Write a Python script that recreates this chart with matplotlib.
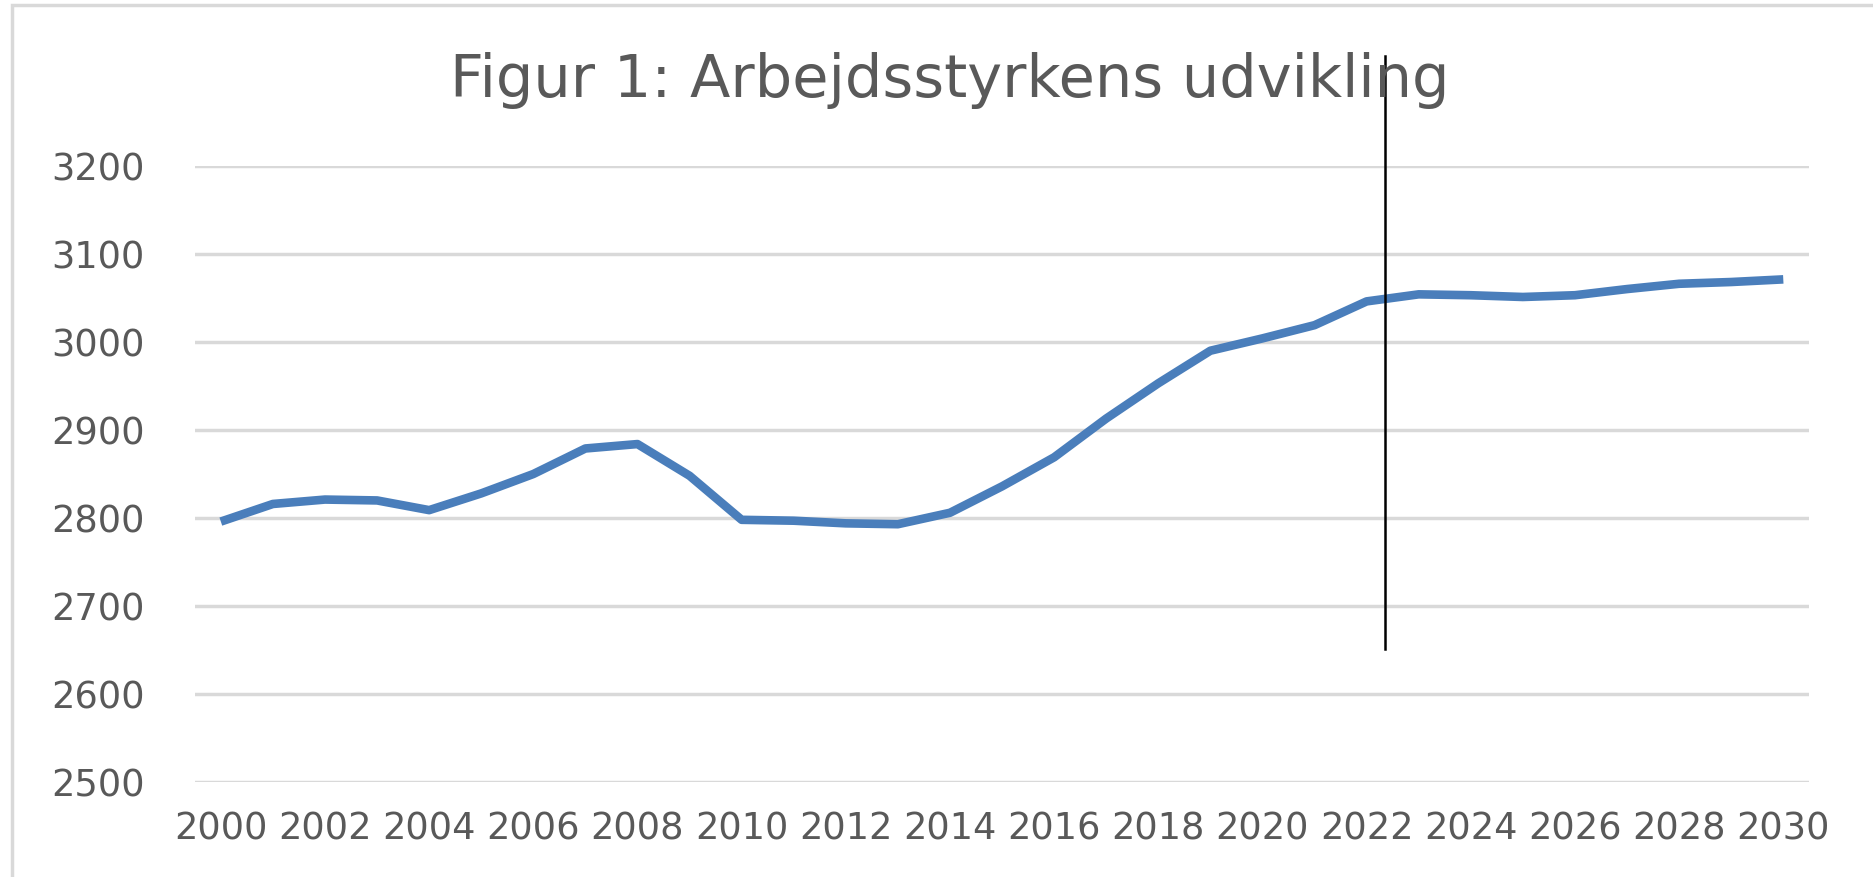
import matplotlib
matplotlib.use('Agg')
import matplotlib.pyplot as plt
from matplotlib.patches import Rectangle

# Arbejdsstyrken 2000-2030 (tusinde personer)
years = list(range(2000, 2031))
labour = [2796, 2816, 2821, 2820, 2809, 2828, 2850, 2879, 2884, 2848,
          2798, 2797, 2794, 2793, 2806, 2836, 2869, 2913, 2953, 2990,
          3004, 3019, 3046, 3054, 3053, 3051, 3053, 3060, 3066, 3068, 3071]
tick_years = list(range(2000, 2031, 2))
y_ticks = [2500, 2600, 2700, 2800, 2900, 3000, 3100, 3200]
split_year = 2022.35

title = 'Figur 1: Arbejdsstyrkens udvikling'
grey = '#595959'

fig = plt.figure(figsize=(18.73, 8.77), dpi=100)
ax = fig.add_axes([0.104, 0.108, 0.862, 0.703])

ax.plot(years, labour, color='#4A7EBB', lw=6.2, solid_joinstyle='round',
        solid_capstyle='butt', zorder=3)

ax.set_xlim(1999.5, 2030.5)
ax.set_ylim(2500, 3200)
ax.set_yticks(y_ticks)
ax.set_xticks(tick_years)
ax.set_xticklabels([str(y) for y in tick_years])
ax.grid(axis='y', color='#D9D9D9', lw=2.5)
ax.set_axisbelow(True)
for s in ax.spines.values():
    s.set_visible(False)
ax.tick_params(axis='both', length=0, labelsize=26.5, labelcolor=grey)
ax.tick_params(axis='y', pad=36)
ax.tick_params(axis='x', pad=20)

# lodret skillelinje mellem historik og fremskrivning
ax.plot([split_year, split_year], [2651, 3325], color='black', lw=1.8,
        clip_on=False, zorder=4)

fig.text(0.507, 0.908, title, ha='center', va='center', fontsize=42.5, color=grey)

# ramme om diagrammet
fig.patches.append(Rectangle((12 / 1873, -0.1), 1.2, 1.1 - 5 / 877,
                             transform=fig.transFigure, fill=False,
                             edgecolor='#D9D9D9', lw=2.5))

fig.savefig('out.png', dpi=100, facecolor='white')
